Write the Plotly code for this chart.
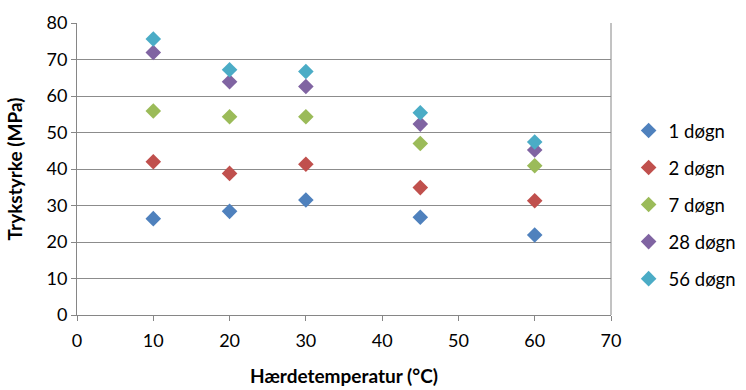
import plotly.graph_objects as go

temps = [10, 20, 30, 45, 60]
series_names = ["1 døgn", "2 døgn", "7 døgn", "28 døgn", "56 døgn"]
d1 = [26.4, 28.4, 31.5, 26.8, 21.9]
d2 = [42.0, 38.8, 41.3, 34.9, 31.3]
d7 = [55.9, 54.3, 54.3, 47.0, 40.9]
d28 = [71.9, 63.9, 62.6, 52.3, 45.2]
d56 = [75.6, 67.2, 66.7, 55.4, 47.4]
colors = ["#4F81BD", "#C0504D", "#9BBB59", "#8064A2", "#4BACC6"]

font_family = "Lato, Arial"

fig = go.Figure()
for i, (name, vals) in enumerate(zip(series_names, [d1, d2, d7, d28, d56])):
    fig.add_trace(go.Scatter(
        x=temps, y=vals, mode="markers", name=name,
        legendgroup=name,
        marker=dict(symbol="diamond", size=12, color=colors[i], line=dict(width=0)),
    ))

fig.update_layout(
    width=746, height=390,
    margin=dict(l=77, r=135, t=23, b=75, autoexpand=False),
    paper_bgcolor="white", plot_bgcolor="white",
    font=dict(family=font_family, size=18, color="#000000"),
    showlegend=True,
    legend=dict(x=1.033, y=0.377, xanchor="left", yanchor="middle",
                font=dict(size=18.5), tracegroupgap=10, itemwidth=30),
    xaxis=dict(range=[0, 70], dtick=10, tick0=0,
               showgrid=False, showline=True, linecolor="#868686", linewidth=1,
               mirror=False, ticks="outside", ticklen=5, tickcolor="#868686",
               zeroline=False, ticklabelstandoff=4,
               title=dict(text="<b>Hærdetemperatur (°C)</b>", font=dict(size=19), standoff=20)),
    yaxis=dict(range=[0, 80], dtick=10, tick0=0,
               showgrid=True, gridcolor="#8C8C8C", gridwidth=1,
               showline=True, linecolor="#868686", linewidth=1,
               ticks="outside", ticklen=5, tickcolor="#868686",
               zeroline=False,
               title=dict(text="<b>Trykstyrke (MPa)</b>", font=dict(size=19), standoff=18)),
)
# right border of plot area
fig.add_shape(type="line", xref="paper", yref="paper", x0=1, x1=1, y0=0, y1=1,
              line=dict(color="#868686", width=1))

fig.write_html("out.html")
